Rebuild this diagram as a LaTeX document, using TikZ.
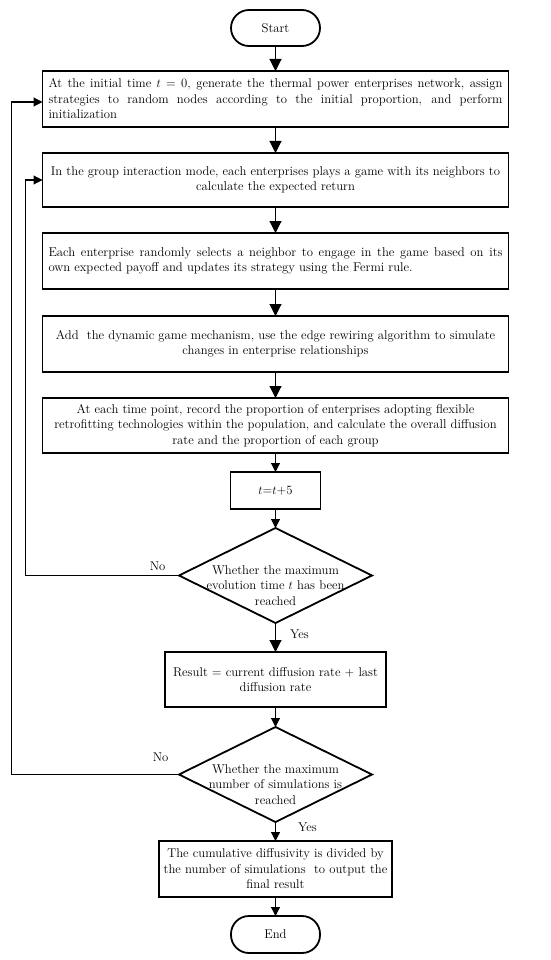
\documentclass[tikz,border=0pt]{standalone}
\usepackage{amsmath}
\usepackage{tikz}
\usetikzlibrary{positioning, arrows.meta, shapes.geometric}

\begin{document}
\begin{tikzpicture}[x=1pt, y=1pt,
    every node/.style={font=\fontsize{12.7}{15.5}\selectfont},
    terminal/.style={draw, line width=1.8pt, outer sep=0pt, rounded corners=18pt, minimum width=89pt, minimum height=36pt, inner sep=0pt},
    process/.style={draw, line width=1.8pt, outer sep=0pt, minimum width=466pt, minimum height=56pt, inner sep=0pt},
    smallbox/.style={draw, line width=1.8pt, outer sep=0pt, inner sep=0pt},
    decision/.style={draw, diamond, line width=1.8pt, outer sep=0pt, minimum width=193pt, minimum height=95pt, inner sep=0pt},
    arr/.style={line width=1.1pt, -{Triangle[width=12pt,length=12pt]}},
    sarr/.style={line width=1.1pt, -{Triangle[width=9pt,length=9pt]}},
    lbl/.style={inner sep=0pt}]
    \useasboundingbox (0,0) rectangle (550,-960);

    \node[terminal] (start) at (275.5,-28) {Start};
    \node[process, below=25pt of start, text width=454pt, align=justify] (init) {At the initial time $t$ = 0, generate the thermal power enterprises network, assign\linebreak strategies to random nodes according to the initial proportion, and perform\linebreak initialization};
    \node[process, minimum height=54pt, below=26pt of init, align=center] (group) {In the group interaction mode, each enterprises plays a game with its neighbors to\\calculate the expected return};
    \node[process, below=26pt of group, text width=454pt, align=justify] (fermi) {Each enterprise randomly selects a neighbor to engage in the game based on its\linebreak own expected payoff and updates its strategy using the Fermi rule.};
    \node[process, below=27pt of fermi, align=center] (rewire) {Add\ \ the dynamic game mechanism, use the edge rewiring algorithm to simulate\\changes in enterprise relationships};
    \node[process, minimum height=55pt, below=26pt of rewire, align=center] (record) {At each time point, record the proportion of enterprises adopting flexible\\retrofitting technologies within the population, and calculate the overall diffusion\\rate and the proportion of each group};
    \node[smallbox, minimum width=90pt, minimum height=37pt, below=19pt of record] (step) {$t$=$t$+5};
    \node[decision, below=19pt of step, label={[align=center, yshift=-10pt]center:Whether the maximum\\evolution time $t$ has been\\reached}] (evo) {};
    \node[smallbox, minimum width=221pt, minimum height=55pt, below=29pt of evo, align=center] (result) {Result = current diffusion rate + last\\diffusion rate};
    \node[decision, below=20pt of result, label={[align=center, yshift=-10pt]center:Whether the maximum\\number of simulations is\\reached}] (sims) {};
    \node[smallbox, minimum width=233pt, minimum height=56pt, below=19pt of sims, align=center] (final) {The cumulative diffusivity is divided by\\the number of simulations\ \ to output the\\final result};
    \node[terminal, minimum height=37pt, below=19pt of final] (end) {End};

    \coordinate (loopA) at ([xshift=-17pt]group.west |- evo.west);
    \coordinate (loopB) at ([xshift=-31pt]init.west |- sims.west);

    \draw[arr] (start) -- (init);
    \draw[arr] (init) -- (group);
    \draw[arr] (group) -- (fermi);
    \draw[arr] (fermi) -- (rewire);
    \draw[arr] (rewire) -- (record);
    \draw[sarr] (record) -- (step);
    \draw[sarr] (step) -- (evo);
    \draw[arr] (evo) -- node[lbl, right=14pt, pos=0.4] (yes1) {Yes} (result);
    \draw[sarr] (result) -- (sims);
    \draw[sarr] (sims) -- node[lbl, right=22pt, pos=0.3] (yes2) {Yes} (final);
    \draw[sarr] (final) -- (end);
    \draw[sarr] (evo.west) node[lbl, above left=4pt and 13pt] (no1) {No} -- (loopA) |- (group.west);
    \draw[sarr] (sims.west) node[lbl, above left=12pt and 10pt] (no2) {No} -- (loopB) |- ([yshift=-3pt]init.west);
\end{tikzpicture}
\end{document}
